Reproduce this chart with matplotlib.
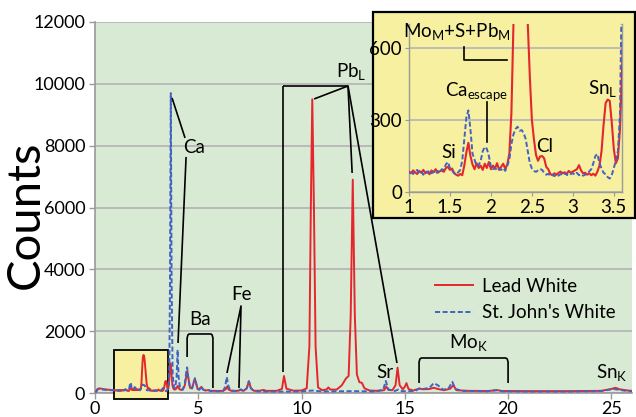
import numpy as np
import matplotlib
matplotlib.use("Agg")
import matplotlib.pyplot as plt
from matplotlib.patches import Rectangle

plt.rcParams['font.family'] = ['Lato', 'DejaVu Sans']
plt.rcParams['mathtext.fontset'] = 'custom'
plt.rcParams['mathtext.rm'] = 'Lato'
plt.rcParams['mathtext.it'] = 'Lato:italic'
plt.rcParams['mathtext.bf'] = 'Lato:bold'

# ---------------------------------------------------------------- data
# XRF spectra (energy in keV, counts).  The 1.0-3.6 keV window is sampled
# on a fine channel grid, the rest of the survey at selected channels.
detail_energy = np.round(np.arange(1.0, 3.6001, 0.025), 3)

lead_detail = [
    85, 78, 90, 82, 75, 88, 80, 92, 78, 85, 74, 90, 82, 95, 80, 86, 90, 84,
    100, 105, 92, 98, 80, 72, 68, 75, 70, 110, 165, 205, 150, 115, 95, 120,
    100, 110, 92, 118, 100, 125, 95, 110, 98, 120, 92, 105, 118, 96, 115,
    160, 330, 700, 1000, 1180, 1230, 1200, 1080, 900, 700, 480, 300, 220,
    155, 130, 148, 150, 140, 105, 95, 75, 70, 78, 72, 80, 85, 78, 82, 75,
    88, 80, 85, 90, 95, 112, 90, 78, 80, 72, 78, 70, 76, 68, 85, 110, 170,
    280, 370, 385, 380, 290, 180, 120, 140, 260, 500]

stjohn_detail = [
    80, 88, 75, 85, 92, 78, 84, 72, 86, 80, 90, 78, 84, 76, 88, 80, 95, 92,
    115, 125, 100, 90, 78, 74, 82, 92, 130, 220, 310, 340, 260, 160, 135,
    108, 112, 130, 170, 188, 180, 150, 105, 95, 100, 90, 98, 92, 100, 88,
    110, 135, 200, 240, 262, 272, 255, 258, 245, 220, 170, 120, 98, 88, 84,
    90, 96, 92, 80, 72, 76, 68, 72, 66, 74, 68, 75, 70, 78, 72, 68, 75, 78,
    72, 80, 70, 74, 68, 72, 80, 86, 95, 120, 150, 158, 120, 98, 80, 74, 62,
    56, 70, 100, 130, 170, 320, 900]

lead_low_energy = [0.05, 0.12, 0.20, 0.30, 0.45, 0.60, 0.80, 0.95]
lead_low_counts = [40, 130, 150, 140, 120, 110, 100, 90]
stjohn_low_energy = [0.05, 0.12, 0.20, 0.30, 0.45, 0.60, 0.80, 0.95]
stjohn_low_counts = [30, 110, 130, 120, 105, 100, 95, 85]

lead_high_energy = [
    3.625, 3.65, 3.675, 3.70, 3.75, 3.80, 3.85, 3.90, 3.95, 4.01, 4.07, 4.15,
    4.25, 4.35, 4.42, 4.47, 4.53, 4.60, 4.70, 4.78, 4.84, 4.90, 4.97, 5.05,
    5.15, 5.22, 5.35, 5.50, 5.60, 5.80, 6.00, 6.20, 6.33, 6.40, 6.47, 6.60,
    6.90, 7.06, 7.20, 7.35, 7.45, 7.55, 7.70, 8.00, 8.15, 8.30, 8.80, 9.05,
    9.15, 9.27, 9.60, 10.00, 10.25, 10.38, 10.45, 10.52, 10.60, 10.68, 10.80,
    11.00, 11.20, 11.30, 11.40, 11.70, 11.95, 12.15, 12.28, 12.38, 12.48,
    12.58, 12.68, 12.80, 12.92, 13.05, 13.30, 13.70, 14.00, 14.10, 14.20,
    14.40, 14.55, 14.65, 14.75, 14.90, 15.00, 15.08, 15.18, 15.40, 15.70,
    15.90, 16.20, 16.40, 16.60, 16.90, 17.20, 17.35, 17.50, 18.00, 19.00,
    19.50, 19.70, 21.00, 23.00, 24.50, 25.00, 25.20, 25.40, 25.80, 26.00]
lead_high_counts = [
    820, 960, 900, 650, 250, 140, 110, 120, 160, 230, 140, 100,
    110, 250, 550, 700, 450, 170, 150, 350, 450, 300, 130, 110,
    200, 120, 80, 95, 70, 70, 65, 70, 120, 210, 110, 70,
    70, 95, 70, 160, 380, 150, 70, 75, 100, 70, 70, 130,
    550, 140, 75, 80, 150, 1500, 6000, 9500, 6000, 1500, 180,
    90, 110, 180, 110, 110, 250, 470, 550, 2500, 6900,
    2500, 600, 350, 330, 150, 80, 70, 90, 210, 100,
    90, 250, 820, 250, 120, 200, 320, 130, 80, 140,
    120, 130, 170, 130, 90, 140, 250, 90, 70, 65,
    90, 65, 60, 60, 70, 130, 170, 120, 80, 70]

stjohn_high_energy = [
    3.63, 3.67, 3.71, 3.76, 3.82, 3.88, 3.95, 4.00, 4.05, 4.12, 4.25, 4.35,
    4.42, 4.46, 4.52, 4.60, 4.70, 4.78, 4.84, 4.90, 4.97, 5.05, 5.15, 5.22,
    5.35, 5.50, 5.60, 5.80, 6.00, 6.20, 6.30, 6.38, 6.45, 6.55, 6.90, 7.06,
    7.20, 7.35, 7.45, 7.55, 7.70, 8.00, 9.00, 10.00, 10.52, 11.00, 12.50,
    13.50, 13.95, 14.08, 14.20, 14.50, 14.68, 14.80, 15.50, 15.70, 15.90,
    16.20, 16.40, 16.60, 16.85, 17.10, 17.30, 17.45, 17.80, 19.00, 19.50,
    19.70, 21.00, 23.00, 24.50, 25.10, 25.30, 25.80, 26.00]
stjohn_high_counts = [
    3500, 9700, 3500, 600, 200, 150, 500, 1400, 500, 150, 110, 300,
    700, 830, 450, 170, 150, 350, 480, 300, 130, 110, 220, 120,
    80, 90, 60, 60, 55, 60, 200, 520, 250, 80, 60, 120,
    60, 150, 380, 150, 60, 50, 45, 50, 80, 50, 60,
    50, 100, 390, 120, 60, 110, 60, 60, 150, 130,
    170, 320, 250, 110, 130, 360, 130, 70, 55, 100,
    55, 50, 50, 60, 130, 110, 60, 55]

series_labels = ["Lead White", "St. John's White"]

lead_energy = np.concatenate([lead_low_energy, detail_energy, lead_high_energy])
lead_counts = np.concatenate([lead_low_counts, lead_detail, lead_high_counts])
stjohn_energy = np.concatenate([stjohn_low_energy, detail_energy, stjohn_high_energy])
stjohn_counts = np.concatenate([stjohn_low_counts, stjohn_detail, stjohn_high_counts])

# ---------------------------------------------------------------- styling
RED = '#e5262c'
BLUE = '#4263c2'
GREEN_BG = '#d9ead4'
YELLOW = '#f6f0a0'
GRID = '#b9b9b9'
SPINE = '#9a9a9a'
DASH = (0, (2.6, 1.3))

W, H = 636, 417
fig = plt.figure(figsize=(W / 100, H / 100), dpi=100)


def fx(px):
    return px / W


def fy(py):
    return 1 - py / H


# ---------------------------------------------------------------- main axes
ax = fig.add_axes([fx(95), fy(393), fx(632) - fx(95), fy(22) - fy(393)])
ax.set_facecolor(GREEN_BG)
ax.set_xlim(0, 26)
ax.set_ylim(0, 12000)
ax.set_xticks([0, 5, 10, 15, 20, 25])
ax.set_yticks(range(0, 12001, 2000))
ax.set_axisbelow(True)
ax.yaxis.grid(True, color=GRID, lw=1.4)
for s in ('top', 'right'):
    ax.spines[s].set_visible(False)
for s in ('left', 'bottom'):
    ax.spines[s].set_color(SPINE)
    ax.spines[s].set_linewidth(1.2)
ax.tick_params(axis='both', labelsize=13, color=SPINE, length=4, width=1.0, pad=3)
ax.tick_params(axis='x', pad=1.5)

fig.text(fx(26), fy(215), 'Counts', rotation=90, ha='center', va='center',
         fontsize=34)

# highlighted low-energy window
ax.add_patch(Rectangle((0.9, -190), 2.62, 1580, facecolor=YELLOW,
                       edgecolor='black', lw=1.3, clip_on=False, zorder=2.6))

ax.plot(lead_energy, lead_counts, color=RED, lw=1.4, zorder=3,
        label=series_labels[0])
ax.plot(stjohn_energy, stjohn_counts, color=BLUE, lw=1.4, ls=DASH, zorder=4,
        label=series_labels[1])

leg = ax.legend(loc='upper left', bbox_to_anchor=(fx(435), fy(278)),
                bbox_transform=fig.transFigure, frameon=False, fontsize=13.5,
                handlelength=2.0, handletextpad=0.5, labelspacing=0.5,
                borderpad=0, borderaxespad=0)

# peak annotations
kw = dict(color='black', lw=1.2, clip_on=False, zorder=6, solid_capstyle='butt')
tk = dict(fontsize=13.5, ha='center', va='center', zorder=7)

ax.plot([3.73, 4.36], [9543, 8249], **kw)
ax.plot([4.41, 4.02], [7635, 1618], **kw)
ax.text(4.79, 7926, 'Ca', **tk)

ax.plot([4.46, 4.46, 4.50, 4.56, 5.61, 5.67, 5.71, 5.71],
        [1165, 1780, 1880, 1909, 1909, 1880, 1780, 162], **kw)
ax.text(5.08, 2362, 'Ba', **tk)

ax.plot([6.39, 7.07, 6.97], [647, 2815, 162], **kw)
ax.text(7.07, 3170, 'Fe', **tk)

ax.plot([9.10, 9.10], [679, 9931], **kw)
ax.plot([9.10, 12.25], [9931, 9931], **kw)
ax.plot([10.61, 12.25, 12.45], [9511, 9931, 7117], **kw)
ax.plot([12.25, 14.62], [9931, 970], **kw)
ax.text(12.4, 10384, r'Pb$_{\mathrm{L}}$', **tk)

ax.text(14.04, 679, 'Sr', **tk)

ax.plot([15.69, 15.69, 15.73, 15.80, 19.89, 19.96, 20.0, 20.0],
        [324, 1000, 1100, 1132, 1132, 1100, 1000, 324], **kw)
ax.text(18.06, 1618, r'Mo$_{\mathrm{K}}$', **tk)

ax.text(25.04, 679, r'Sn$_{\mathrm{K}}$', **tk)

# ---------------------------------------------------------------- inset
box = Rectangle((fx(373), fy(218)), fx(635) - fx(373), fy(12) - fy(218),
                transform=fig.transFigure, facecolor=YELLOW, edgecolor='black',
                lw=1.6, zorder=1)
fig.add_artist(box)

ins = fig.add_axes([fx(409), fy(192), fx(622) - fx(409), fy(24) - fy(192)],
                   zorder=2)
ins.patch.set_visible(False)
ins.set_xlim(1, 3.6)
ins.set_ylim(0, 700)
ins.set_xticks([1, 1.5, 2, 2.5, 3, 3.5])
ins.set_xticklabels(['1', '1.5', '2', '2.5', '3', '3.5'])
ins.set_yticks([0, 300, 600])
ins.set_axisbelow(True)
ins.yaxis.grid(True, color=GRID, lw=1.3)
ins.spines['top'].set_visible(False)
for s in ('left', 'bottom', 'right'):
    ins.spines[s].set_color(SPINE)
    ins.spines[s].set_linewidth(1.0)
ins.tick_params(axis='both', labelsize=13.5, color=SPINE, length=3, pad=2)

ins.plot(lead_energy, lead_counts, color=RED, lw=1.5, zorder=3)
ins.plot(stjohn_energy, stjohn_counts, color=BLUE, lw=1.4, ls=DASH, zorder=4)

ik = dict(color='black', lw=1.2, clip_on=False, zorder=6)
itk = dict(fontsize=13.5, ha='center', va='center', zorder=7)
ins.text(1.59, 667, r'Mo$_{\mathrm{M}}$+S+Pb$_{\mathrm{M}}$', **itk)
ins.plot([1.67, 1.67, 2.20], [604, 550, 550], **ik)
ins.text(1.82, 417, r'Ca$_{\mathrm{escape}}$', **itk)
ins.plot([1.95, 1.95], [375, 208], **ik)
ins.text(1.49, 163, 'Si', **itk)
ins.text(2.65, 188, 'Cl', **itk)
ins.text(3.36, 433, r'Sn$_{\mathrm{L}}$', **itk)

fig.savefig('out.png', dpi=100)
